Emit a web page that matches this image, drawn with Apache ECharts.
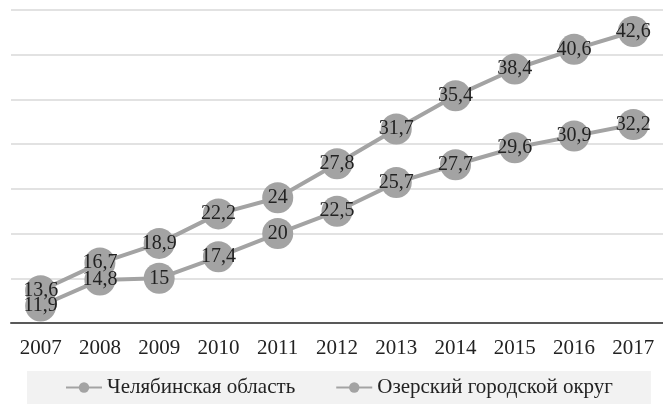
<!DOCTYPE html>
<html>
<head>
<meta charset="utf-8">
<script src="https://cdn.jsdelivr.net/npm/echarts@6/dist/echarts.min.js"></script>
<style>
	html, body { margin: 0; padding: 0; background: #fff; }
	#main { width: 663px; height: 404px; }
</style>
</head>
<body>
<div id="main"></div>
<script>
	var years = ['2007', '2008', '2009', '2010', '2011', '2012', '2013', '2014', '2015', '2016', '2017'];
	var seriesNames = ['Челябинская область', 'Озерский городской округ'];
	var chelyabinsk = [13.6, 16.7, 18.9, 22.2, 24, 27.8, 31.7, 35.4, 38.4, 40.6, 42.6];
	var ozersky = [11.9, 14.8, 15, 17.4, 20, 22.5, 25.7, 27.7, 29.6, 30.9, 32.2];
	var yMin = 10, yMax = 45, yStep = 5;

	var myChart = echarts.init(document.getElementById('main'));
	var grey = '#a3a3a3';
	var serif = '"Liberation Serif", "DejaVu Serif", serif';

	function makeSeries(name, data) {
		return {
			name: name,
			type: 'line',
			data: data,
			symbol: 'circle',
			symbolSize: 31,
			lineStyle: { color: grey, width: 4 },
			itemStyle: { color: grey },
			label: {
				show: true,
				position: 'inside',
				color: '#222',
				fontFamily: serif,
				fontSize: 20,
				formatter: function (p) {
					return String(p.value).replace('.', ',');
				}
			}
		};
	}

	var option = {
		animation: false,
		color: [grey, grey],
		grid: { left: 11, top: 10, width: 655, bottom: 81 },
		legend: {
			data: seriesNames,
			left: 27,
			top: 371,
			padding: [6, 38],
			itemGap: 40,
			itemWidth: 36,
			itemHeight: 13,
			backgroundColor: '#f2f2f2',
			textStyle: { color: '#222', fontFamily: serif, fontSize: 21 }
		},
		xAxis: {
			type: 'category',
			data: years,
			axisTick: { show: false },
			axisLine: { lineStyle: { color: '#595959', width: 2 } },
			axisLabel: { color: '#222', fontFamily: serif, fontSize: 21, margin: 15 }
		},
		yAxis: {
			type: 'value',
			min: yMin,
			max: yMax,
			interval: yStep,
			axisLabel: { show: false },
			axisLine: { show: false },
			axisTick: { show: false },
			splitLine: { lineStyle: { color: '#d9d9d9', width: 1.5 } }
		},
		series: [
			makeSeries(seriesNames[0], chelyabinsk),
			makeSeries(seriesNames[1], ozersky)
		]
	};
	myChart.setOption(option);
	window.addEventListener('resize', function () {
		myChart.resize();
	});
</script>
</body>
</html>
